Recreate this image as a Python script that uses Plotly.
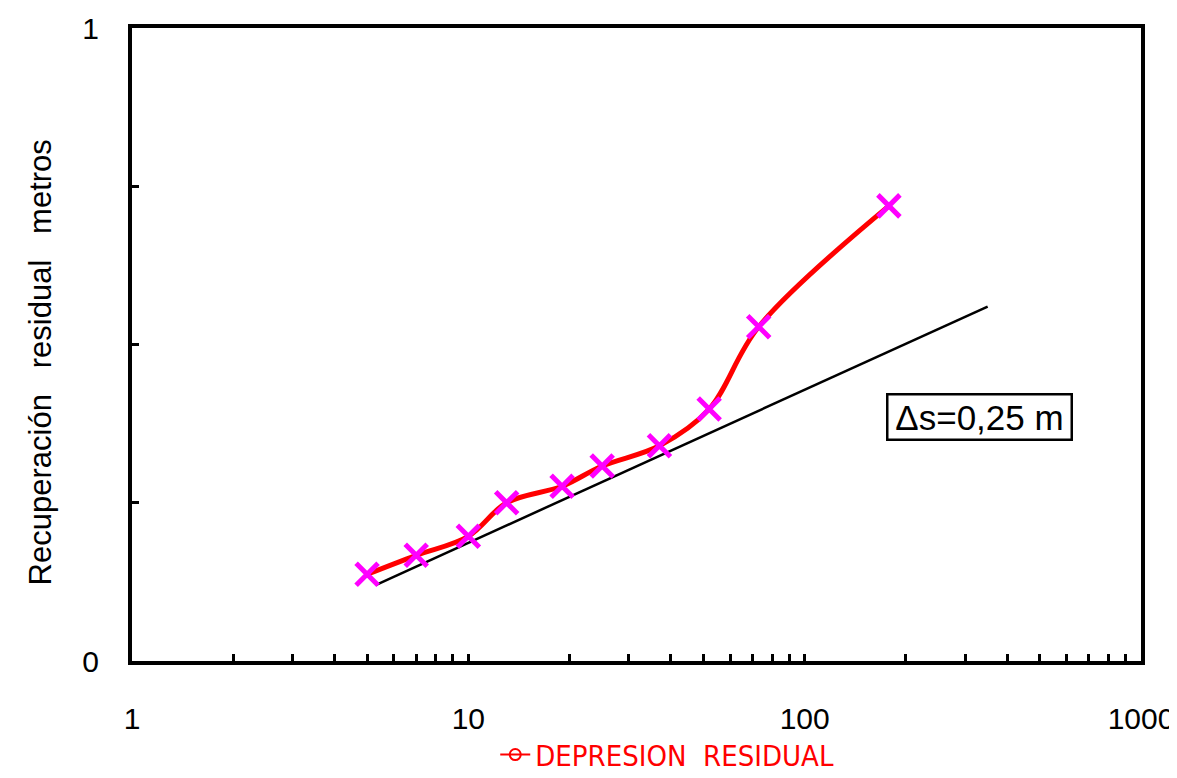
import plotly.graph_objects as go

# Data
tiempo = [5, 7, 10, 13, 19, 25, 37, 52, 73, 178]
recuperacion = [0.137, 0.167, 0.197, 0.250, 0.276, 0.308, 0.340, 0.398, 0.528, 0.719]

recta_x = [5.3, 350]
recta_y = [0.12, 0.56]

x_tick_vals = [1, 2, 3, 4, 5, 6, 7, 8, 9,
               10, 20, 30, 40, 50, 60, 70, 80, 90,
               100, 200, 300, 400, 500, 600, 700, 800, 900, 1000]
x_tick_labels = ["1"] + [""] * 8 + ["10"] + [""] * 8 + ["100"] + [""] * 8 + ["1000"]
y_tick_vals = [0, 0.25, 0.5, 0.75, 1]
y_tick_labels = ["0", "", "", "", "1"]

legend_name = "DEPRESION\u00a0\u00a0RESIDUAL"
annot_text = "\u0394s=0,25 m"
y_title = "Recuperación\u00a0\u00a0\u00a0residual\u00a0\u00a0\u00a0metros"

fig = go.Figure()

fig.add_trace(go.Scatter(
    x=recta_x, y=recta_y, mode="lines",
    line=dict(color="black", width=2.5),
    showlegend=False, hoverinfo="skip"))

fig.add_trace(go.Scatter(
    x=tiempo, y=recuperacion, mode="lines",
    line=dict(color="#ff0000", width=5, shape="spline", smoothing=1.0),
    showlegend=False))

fig.add_trace(go.Scatter(
    x=tiempo, y=recuperacion, mode="markers",
    marker=dict(symbol="x-thin", size=22, line=dict(color="#ff00ff", width=5)),
    showlegend=False))

# legend entry (line with open circle)
fig.add_trace(go.Scatter(
    x=[None], y=[None], mode="lines+markers", name=legend_name,
    line=dict(color="#ff0000", width=2),
    marker=dict(symbol="circle-open", size=11, color="#ff0000", line=dict(width=2))))

font_main = "Liberation Sans, Arial, sans-serif"

# page body adds an 8px offset, so the figure is 8px smaller with 8px less top/left margin
fig.update_layout(
    width=1169, height=770,
    margin=dict(l=124, r=36, t=20, b=117, autoexpand=False),
    paper_bgcolor="white", plot_bgcolor="white",
    font=dict(family=font_main, color="black", size=30),
    showlegend=True,
    legend=dict(orientation="h", x=0.36, xanchor="left", y=-0.148, yanchor="middle",
                font=dict(family="Liberation Sans Narrow, Arial Narrow, DejaVu Sans Condensed, sans-serif",
                          size=29, color="#ff0000"),
                bgcolor="rgba(0,0,0,0)", borderwidth=0),
    xaxis=dict(type="log", range=[0, 3], tickvals=x_tick_vals, ticktext=x_tick_labels,
               ticks="inside", ticklen=7, tickwidth=3, tickcolor="black",
               showline=True, linecolor="black", linewidth=4, mirror=True,
               showgrid=False, zeroline=False, tickfont=dict(size=30), ticklabelstandoff=28,
               automargin=False),
    yaxis=dict(range=[0, 1], tickvals=y_tick_vals, ticktext=y_tick_labels,
               ticks="inside", ticklen=7, tickwidth=3, tickcolor="black",
               showline=True, linecolor="black", linewidth=4, mirror=True,
               showgrid=False, zeroline=False, tickfont=dict(size=30), ticklabelstandoff=23,
               automargin=False),
    annotations=[
        dict(x=2.52, y=0.386, xref="x", yref="y", text=annot_text, showarrow=False,
             font=dict(size=35, color="black", family=font_main),
             width=176, height=37,
             bordercolor="black", borderwidth=2.5, borderpad=3, bgcolor="white"),
        dict(x=-0.091, y=0.472, xref="paper", yref="paper", text=y_title, showarrow=False,
             textangle=-90, xanchor="center", yanchor="middle",
             font=dict(size=31, color="black", family=font_main)),
    ],
)

fig.write_html("out.html")
